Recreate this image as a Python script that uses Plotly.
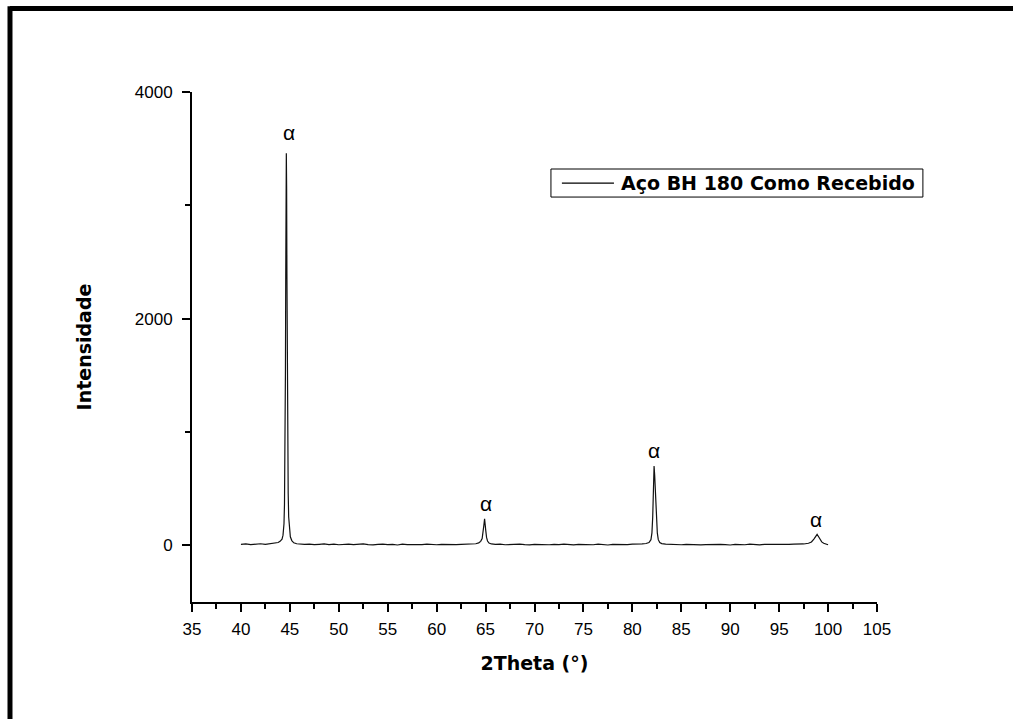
import plotly.graph_objects as go

two_theta = [
    40.0, 40.5, 41.0, 41.5, 42.0, 42.5, 43.0, 43.5, 43.8, 44.0, 44.2, 44.3, 44.4, 44.45,
    44.5, 44.55, 44.58, 44.61, 44.64, 44.67, 44.70, 44.74, 44.78, 44.83, 44.88, 44.95,
    45.05, 45.2, 45.4, 45.7, 46.0, 46.5, 47.0, 47.5, 48.0, 48.5, 49.0, 49.5, 50.0, 50.5,
    51.0, 51.5, 52.0, 52.5, 53.0, 53.5, 54.0, 54.5, 55.0, 55.5, 56.0, 56.5, 57.0, 57.5,
    58.0, 58.5, 59.0, 59.5, 60.0, 60.5, 61.0, 61.5, 62.0, 62.5, 63.0, 63.5, 64.0, 64.3,
    64.5, 64.65, 64.75, 64.83, 64.9, 64.96, 65.02, 65.1, 65.2, 65.35, 65.6, 66.0, 66.5,
    67.0, 67.5, 68.0, 68.5, 69.0, 69.5, 70.0, 70.5, 71.0, 71.5, 72.0, 72.5, 73.0, 73.5,
    74.0, 74.5, 75.0, 75.5, 76.0, 76.5, 77.0, 77.5, 78.0, 78.5, 79.0, 79.5, 80.0, 80.5,
    81.0, 81.4, 81.7, 81.9, 82.0, 82.08, 82.15, 82.22, 82.28, 82.33, 82.4, 82.47, 82.55,
    82.65, 82.8, 83.0, 83.4, 84.0, 84.5, 85.0, 85.5, 86.0, 86.5, 87.0, 87.5, 88.0, 88.5,
    89.0, 89.5, 90.0, 90.5, 91.0, 91.5, 92.0, 92.5, 93.0, 93.5, 94.0, 94.5, 95.0, 95.5,
    96.0, 96.5, 97.0, 97.5, 98.0, 98.3, 98.55, 98.75, 98.88, 99.0, 99.15, 99.35, 99.55,
    99.8, 100.0,
]
intensity = [
    8, 12, 6, 10, 14, 9, 13, 18, 25, 35, 55, 90, 190, 360,
    760, 1550, 2400, 3200, 3460, 3150, 2400, 1500, 880, 460, 250, 140,
    75, 42, 22, 14, 10, 8, 11, 6, 9, 12, 7, 10, 5, 9,
    11, 6, 8, 12, 7, 4, 9, 11, 6, 8, 3, 10, 7, 5,
    9, 6, 11, 8, 5, 9, 7, 10, 6, 8, 11, 10, 14, 22,
    35, 60, 110, 180, 235, 200, 130, 70, 38, 20, 12, 8, 10,
    5, 9, 7, 11, 6, 4, 9, 7, 10, 5, 8, 6, 11, 7,
    4, 9, 6, 8, 5, 10, 7, 3, 8, 6, 9, 7, 10, 8,
    12, 16, 25, 50, 110, 250, 520, 700, 620, 480, 430, 260, 110,
    50, 25, 15, 10, 7, 9, 5, 8, 6, 10, 4, 7, 9, 5,
    8, 6, 3, 9, 7, 5, 10, 6, 4, 8, 7, 9, 6, 10,
    8, 11, 9, 12, 18, 30, 55, 85, 97, 80, 55, 30, 18,
    10, 5,
]

# alpha phase labels (x, y in data units)
label_x = [44.95, 65.07, 82.25, 98.77]
label_y = [3640, 366, 835, 224]
label_text = ["α", "α", "α", "α"]

series_name = "Aço BH 180 Como Recebido"

fig = go.Figure()
fig.add_trace(go.Scatter(
    x=two_theta, y=intensity, mode="lines",
    line=dict(color="#111111", width=1.2),
    name=series_name, showlegend=False,
))

for lx, ly, lt in zip(label_x, label_y, label_text):
    fig.add_annotation(x=lx, y=ly, text=lt, showarrow=False,
                       font=dict(family="Liberation Sans, Arial", size=21, color="black"),
                       xanchor="center", yanchor="middle")

# manual legend
fig.add_shape(type="rect", xref="paper", yref="paper",
              x0=0.524, x1=1.067, y0=0.794, y1=0.849,
              line=dict(color="black", width=1), fillcolor="white")
fig.add_shape(type="line", xref="paper", yref="paper",
              x0=0.540, x1=0.616, y0=0.8215, y1=0.8215,
              line=dict(color="black", width=1.2))
fig.add_annotation(xref="paper", yref="paper", x=0.624, y=0.8215,
                   text="<b>" + series_name + "</b>", showarrow=False,
                   xanchor="left", yanchor="middle",
                   font=dict(family="DejaVu Sans", size=19, color="black"))

# outer frame (top and left edges)
fig.add_shape(type="line", xref="paper", yref="paper",
              x0=-0.2657, x1=1.2, y0=1.1637, y1=1.1637,
              line=dict(color="black", width=5))
fig.add_shape(type="line", xref="paper", yref="paper",
              x0=-0.2657, x1=-0.2657, y0=1.168, y1=-0.25,
              line=dict(color="black", width=5))

axis_font = dict(family="Liberation Sans, Arial", size=17, color="black")
title_font = dict(family="DejaVu Sans", size=19, color="black")

fig.update_layout(
    width=1013, height=719,
    margin=dict(l=192, r=136, t=92, b=117),
    paper_bgcolor="white", plot_bgcolor="white",
    xaxis=dict(
        range=[35, 105], dtick=5, tick0=35,
        showgrid=False, zeroline=False,
        showline=True, linecolor="black", linewidth=2,
        ticks="outside", ticklen=8, tickwidth=2, tickcolor="black",
        ticklabelstandoff=3,
        minor=dict(dtick=2.5, ticks="outside", ticklen=5, tickwidth=2, tickcolor="black", showgrid=False),
        tickfont=axis_font,
        title=dict(text="<b>2Theta (°)</b>", font=title_font, standoff=18),
    ),
    yaxis=dict(
        range=[-500, 4000], tickvals=[0, 2000, 4000],
        showgrid=False, zeroline=False,
        showline=True, linecolor="black", linewidth=2,
        ticks="outside", ticklen=8, tickwidth=2, tickcolor="black",
        ticklabelstandoff=6,
        minor=dict(tickvals=[-1000, 1000, 3000], ticks="outside", ticklen=5, tickwidth=2, tickcolor="black", showgrid=False),
        tickfont=axis_font,
        title=dict(text="<b>Intensidade</b>", font=title_font, standoff=38),
    ),
)

fig.write_html("out.html")
